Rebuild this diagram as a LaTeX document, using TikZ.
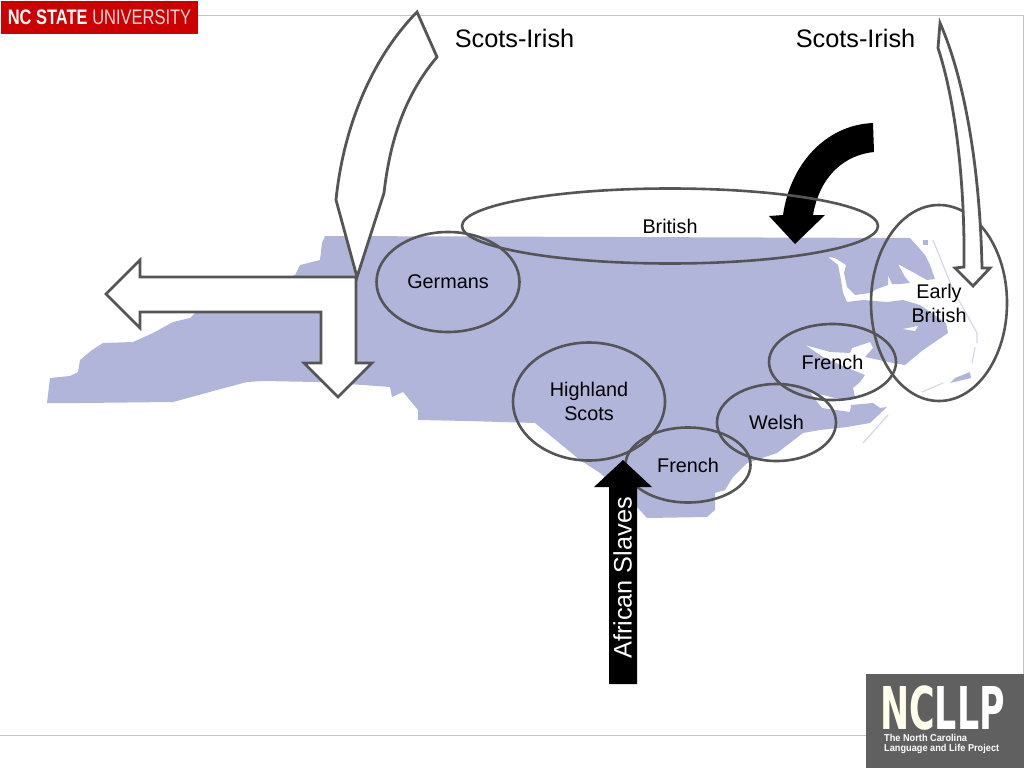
\documentclass[tikz,border=0pt]{standalone}
\usepackage{fontspec}
\setmainfont{Liberation Sans}
\newfontfamily\logofont{DejaVu Sans}
\usetikzlibrary{shapes}
\definecolor{mapblue}{HTML}{B1B5DA}
\definecolor{linegray}{HTML}{555555}
\definecolor{rulegray}{HTML}{C4C4C4}
\definecolor{logored}{HTML}{CC0000}
\definecolor{logogray}{HTML}{606060}
\tikzset{
  region/.style={ellipse, draw=linegray, line width=2.6pt, inner sep=0pt, align=center,
    font=\fontsize{19.8}{24}\selectfont},
  bigarrow/.style={draw=linegray, fill=white, line width=2.8pt, line join=miter},
  bigtext/.style={font=\fontsize{25.3}{30}\selectfont},
  island/.style={draw=mapblue!55!white, line width=1.2pt}
}
\newcommand{\regionnode}[5] {\node at (#1) (#2) [region, minimum width=#3pt, minimum height=#4pt] {#5};}
\begin{document}
\begin{tikzpicture}[x=1pt, y=-1pt]
\useasboundingbox (0,0) rectangle (1024,768);

\draw [rulegray, line width=1pt] (198,16) -- (1023.5,16) -- (1023.5,674);
\draw [rulegray, line width=1pt] (0,735) -- (866,735);

% state
\fill [mapblue] (47,403) -- (50,378) -- (70,376) -- (78,372) -- (80,360) -- (92,350) -- (103,343)
  -- (133,342) -- (153,333) -- (173,322) -- (190,318) -- (195,313) -- (295,275) -- (300,265)
  -- (320,260) -- (322,243) -- (325,236) -- (910,238) -- (918,247) -- (925,255) -- (930,265)
  -- (935,279) -- (927,280) -- (918,275) -- (898,264) -- (905,277) -- (910,283) -- (900,284)
  -- (892,284) -- (888,275) -- (888,285) -- (877,289) -- (870,293) -- (855,295) -- (847,287)
  -- (844,273) -- (846,265) -- (835,258) -- (828,257) -- (838,265) -- (841,280) -- (843,293)
  -- (847,302) -- (863,300) -- (887,302) -- (903,300) -- (920,305) -- (946,323) -- (948,333)
  -- (923,350) -- (905,365) -- (893,363) -- (865,357) -- (873,348) -- (870,342) -- (852,348)
  -- (850,353) -- (830,352) -- (805,345) -- (823,357) -- (843,366) -- (865,375) -- (860,382)
  -- (853,388) -- (855,397) -- (850,400) -- (835,398) -- (815,393) -- (808,390) -- (822,408)
  -- (850,412) -- (851,405) -- (873,403) -- (880,408) -- (887,407) -- (870,423) -- (847,427)
  -- (820,430) -- (803,433) -- (777,453) -- (747,463) -- (733,477) -- (725,490) -- (715,493)
  -- (715,510) -- (707,517) -- (647,518) -- (637,507) -- (600,473) -- (580,460) -- (535,423)
  -- (467,421) -- (418,420) -- (418,410) -- (403,392) -- (392,397) -- (390,387) -- (363,385)
  -- (317,382) -- (263,381) -- (247,382) -- (217,390) -- (173,402) -- (80,403) -- cycle;
\fill [mapblue] (923,240) rectangle (928,245);
\fill [white] (903,329) -- (918,326) -- (915,331) -- cycle;
\draw [island] (933,240) -- (953,290) -- (977,333) -- (977,343);
\draw [island] (975,347) -- (972,363);
\draw [island] (943,383) -- (922,392);
\draw [island] (888,415) -- (863,443);
\fill [mapblue] (970,372) -- (971,378) -- (950,383) -- (955,378) -- cycle;

% black curved arrow
\fill (873,123) -- (874,152) .. controls (845,155) and (820,175) .. (813,215) -- (825,215) -- (795,244)
  -- (769,216) -- (783,215) .. controls (790,165) and (825,125) .. (873,123) -- cycle;

\regionnode {670,226} {british} {416} {75} {British};
\regionnode {448,282} {germans} {143} {100} {Germans};
\regionnode {589,401.5} {highland} {152} {118} {Highland\\Scots};
\regionnode {688,465} {frenchsouth} {125} {75} {French};
\regionnode {776.5,422.5} {welsh} {119} {77} {Welsh};
\regionnode {832.5,362} {frencheast} {127} {76} {French};
\regionnode {939,303} {earlybritish} {136} {196} {Early\\British};

% arrows of the scots-irish
\draw [bigarrow] (356,277) -- (140,277) -- (140,260) -- (106,294) -- (140,328) -- (140,312) -- (321,312)
  -- (321,363) -- (304,363) -- (338,397) -- (372,363) -- (356,363) -- cycle;
\draw [bigarrow] (417,12) -- (437,57) .. controls (405,95) and (390,140) .. (384,193) -- (357,277)
  -- (336,200) .. controls (343,130) and (370,60) .. (417,12) -- cycle;
\draw [bigarrow] (940,23) .. controls (965,80) and (980,170) .. (982,268) -- (990,268) -- (973,286)
  -- (955,268) -- (964,267) .. controls (965,180) and (955,100) .. (938,48) -- cycle;

% black straight arrow
\fill (609,684) -- (609,487) -- (594,487) -- (623,460) -- (652,487) -- (637,487) -- (637,684) -- cycle;
\node at (622.5,578) (slaves) [bigtext, white, rotate=90] {African Slaves};

\node at (514.5,38) (scotswest) [bigtext] {Scots-Irish};
\node at (855.5,38) (scotseast) [bigtext] {Scots-Irish};

% logos
\fill [logored] (1,1) rectangle (198,34);
\node at (99.5,17.5) (ncstate) [xscale=0.785, white, font=\fontsize{21}{24}\selectfont]
  {\textbf{NC STATE} \textcolor{red!15!white}{UNIVERSITY}};
\fill [logogray] (866,674) rectangle (1024,768);
\node at (942.5,708.5) (ncllp) [xscale=0.59, inner sep=0pt, white, font=\logofont\fontsize{59}{59}\selectfont\bfseries]
  {\textcolor{yellow!8!white}{NC}LLP};
\node at (884,744) (ncllpname) [anchor=west, xscale=0.92, inner sep=0pt, white, align=left,
  font=\fontsize{10}{10}\selectfont\bfseries] {The North Carolina\\Language and Life Project};
\end{tikzpicture}
\end{document}
